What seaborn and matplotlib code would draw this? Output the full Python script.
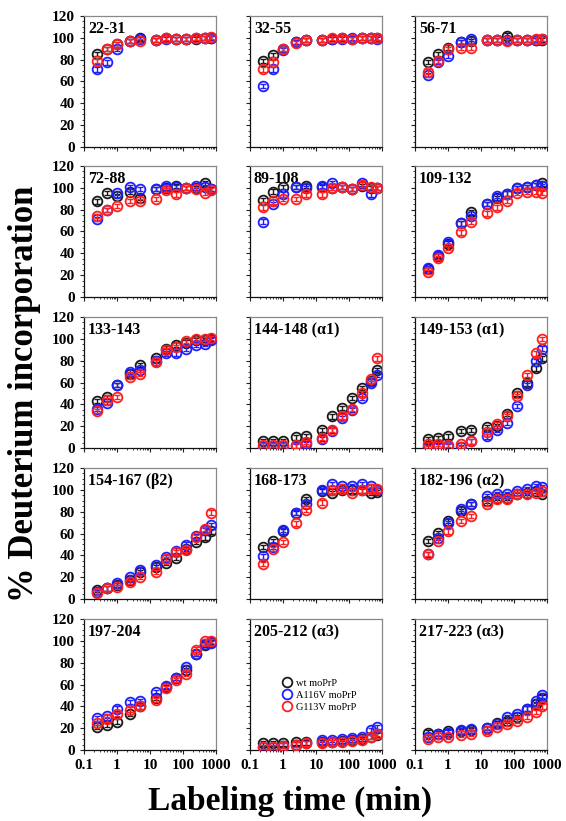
import numpy as np
import pandas as pd
import matplotlib
matplotlib.use("Agg")
import matplotlib.pyplot as plt
from matplotlib.lines import Line2D
from matplotlib.ticker import MultipleLocator, LogLocator, NullFormatter, FixedFormatter, FixedLocator
import seaborn as sns

sns.set_theme(style="ticks")
plt.rcParams["font.family"] = ["Liberation Serif", "DejaVu Serif"]
plt.rcParams["text.color"] = "black"
plt.rcParams["axes.labelcolor"] = "black"

# Labeling times (min)
times = [0.25, 0.5, 1, 2.5, 5, 15, 30, 60, 120, 240, 480, 720]

variants = ["wt moPrP", "A116V moPrP", "G113V moPrP"]
palette = {"wt moPrP": "#1a1a1a", "A116V moPrP": "#1f1fff", "G113V moPrP": "#ff1f1f"}

panels = ["22-31", "32-55", "56-71",
          "72-88", "89-108", "109-132",
          "133-143", "144-148 (\u03b11)", "149-153 (\u03b11)",
          "154-167 (\u03b22)", "168-173", "182-196 (\u03b12)",
          "197-204", "205-212 (\u03b13)", "217-223 (\u03b13)"]

# % deuterium incorporation per peptide: wt, A116V, G113V
p22_wt    = [85, 90, 94, 97, 100, 98, 99.5, 99, 99, 99, 100, 100]
p22_a116v = [71, 77.5, 90, 97, 99, 98, 99, 99, 99, 100, 100, 100]
p22_g113v = [79, 90, 94, 97, 97, 98, 100, 99, 99, 100, 100, 101]

p32_wt    = [79, 84.5, 90, 96, 98, 98, 99, 100, 99, 100, 100, 100]
p32_a116v = [56, 71, 89, 96, 98, 98, 99, 99, 100, 100, 100, 99]
p32_g113v = [71, 77.5, 90, 95, 98, 98, 100, 100, 99, 100, 100, 100]

p56_wt    = [78, 85, 91, 96, 97, 98, 98, 102, 98, 98, 98, 98]
p56_a116v = [66, 78, 83.5, 96, 99, 98, 98, 98, 98, 98, 98, 99]
p56_g113v = [69, 79, 90, 91, 91, 98, 98, 97, 98, 98, 99, 99]

p72_wt    = [87.5, 95, 92.7, 96.6, 91, 98.7, 100, 101.8, 99.6, 99.6, 104, 99]
p72_a116v = [71.4, 79.6, 95, 101, 98.7, 98.7, 101.8, 101, 99.6, 101.8, 101, 99]
p72_g113v = [74.4, 79.6, 83.5, 88, 88, 89.6, 97.8, 94, 100, 98.7, 95.7, 98]

p89_wt    = [88.7, 96.6, 101, 101, 101.8, 101, 100, 101, 98.7, 101.5, 100, 100]
p89_a116v = [69, 85, 94, 101, 99.6, 101.8, 104, 101, 98.7, 104, 94, 100]
p89_g113v = [82, 87.5, 89.6, 89.6, 94, 94, 99.6, 101, 98.7, 103, 101, 100]

p109_wt    = [25.8, 38, 49, 67.4, 77.5, 85, 90.5, 94.8, 100, 101, 102.7, 104]
p109_a116v = [26.4, 38.9, 50, 67.4, 74.4, 85, 92.7, 94.8, 99.6, 101, 102.7, 101.8]
p109_g113v = [22.8, 35.8, 44.7, 59.2, 69, 76.5, 82, 88, 95.7, 96.6, 96.6, 95.7]

p133_wt    = [43, 47, 57.7, 68, 76, 82.6, 91, 94.8, 96.6, 98.7, 98.7, 99.6]
p133_a116v = [35.8, 41, 57.7, 70, 71.4, 79.6, 86.6, 86.6, 91, 94.8, 95.7, 98.7]
p133_g113v = [34, 44, 47, 65, 68, 78.4, 89.6, 92.7, 97.8, 100, 100, 101]

p144_wt    = [6.5, 6.7, 6.7, 9.7, 11.2, 16.7, 28.9, 36.5, 46, 55, 61, 71.4]
p144_a116v = [1, 1, 1, 1.5, 3.6, 8.5, 16, 27.3, 35, 45.6, 59.2, 66.8]
p144_g113v = [2.5, 3, 2.5, 2.4, 5.5, 9, 16.7, 28.9, 35.8, 50, 63, 82]

p149_wt    = [8.5, 9, 10.6, 15.8, 16.7, 18.8, 19.7, 31, 50, 59.2, 72.9, 82]
p149_a116v = [0.6, 1.5, 1.5, 0.6, 6, 10.6, 16.7, 22.8, 38.6, 57.7, 79.6, 91]
p149_g113v = [3.6, 3.6, 3, 3.6, 6, 15, 21.9, 28.9, 47.7, 66.8, 86.6, 99.6]

p154_wt    = [8.2, 9.7, 12.7, 17.2, 24.8, 29.3, 33, 37.8, 46, 52, 56.5, 62]
p154_a116v = [6.6, 9.7, 14.8, 20.3, 27, 30.8, 38.4, 44.4, 49.9, 58, 63, 68]
p154_g113v = [5.7, 9.7, 11.2, 15.7, 20.3, 24.8, 36.9, 42.9, 45, 57, 64, 79.2]

p168_wt    = [47.5, 52.9, 62, 79, 91.3, 98.8, 97.3, 99.4, 99.4, 99.4, 97.3, 98.2]
p168_a116v = [39, 47.5, 63.2, 79.2, 87.4, 99.4, 105.5, 103.4, 103.4, 104.9, 103.4, 99.4]
p168_g113v = [32.3, 46, 52, 69.2, 81.3, 88.3, 99.4, 100.4, 97.3, 99.4, 100.4, 100.4]

p182_wt    = [52.9, 60.2, 71.6, 80.7, 86.8, 89.8, 92.8, 92.8, 96, 97.3, 98.8, 96.4]
p182_a116v = [40.8, 56, 69.2, 82.2, 86.8, 94.3, 96.4, 96.4, 98.8, 100.4, 103.4, 102.4]
p182_g113v = [41.4, 52.9, 62, 71.6, 76.2, 87.4, 91.3, 91.3, 96.4, 95.8, 97.3, 98.8]

p197_wt    = [21, 23, 26, 33, 40, 48, 58, 66, 73, 88, 96, 99]
p197_a116v = [29, 31, 38, 44, 45, 53, 59, 66, 76, 88, 97, 98]
p197_g113v = [25, 28, 33, 37, 40, 46, 57, 64, 70, 92, 100, 100]

p205_wt    = [6, 6, 6, 7, 7, 7, 7, 8, 9, 10, 12, 14]
p205_a116v = [3, 3, 4, 5, 6, 9, 9, 10, 11, 12, 18, 21]
p205_g113v = [3, 3, 4, 5, 6, 6, 7, 7, 8, 9, 12, 15]

p217_wt    = [16, 15, 17, 17, 18, 20, 25, 27, 30, 38, 42, 48]
p217_a116v = [12, 15, 16, 18, 19, 20, 24, 30, 33, 38, 45, 50]
p217_g113v = [10, 12, 12, 14, 15, 17, 21, 24, 27, 30, 35, 40]

series = [
    (p22_wt, p22_a116v, p22_g113v), (p32_wt, p32_a116v, p32_g113v), (p56_wt, p56_a116v, p56_g113v),
    (p72_wt, p72_a116v, p72_g113v), (p89_wt, p89_a116v, p89_g113v), (p109_wt, p109_a116v, p109_g113v),
    (p133_wt, p133_a116v, p133_g113v), (p144_wt, p144_a116v, p144_g113v), (p149_wt, p149_a116v, p149_g113v),
    (p154_wt, p154_a116v, p154_g113v), (p168_wt, p168_a116v, p168_g113v), (p182_wt, p182_a116v, p182_g113v),
    (p197_wt, p197_a116v, p197_g113v), (p205_wt, p205_a116v, p205_g113v), (p217_wt, p217_a116v, p217_g113v),
]

# standard deviation shown on every point
point_sd = 2.0

rows = []
for name, vals in zip(panels, series):
    for variant, v in zip(variants, vals):
        for t, y in zip(times, v):
            rows.append({"panel": name, "variant": variant, "time": t, "deut": y})
df = pd.DataFrame(rows)

x_ticks = [0.1, 1, 10, 100, 1000]
x_ticklabels = ["0.1", "1", "10", "100", "1000"]
y_ticks = [0, 20, 40, 60, 80, 100, 120]

fig = plt.figure(figsize=(5.66, 8.21), dpi=100)
W, H = 566, 821
col_left = [84, 250, 415]
row_bottom = [147, 297, 448, 599, 750]
aw, ah = 132, 131

MS = 7.0
MEW = 1.3

for i, name in enumerate(panels):
    r, c = divmod(i, 3)
    ax = fig.add_axes([col_left[c] / W, 1 - row_bottom[r] / H, aw / W, ah / H])
    sub = df[df["panel"] == name]
    for k, variant in enumerate(variants):
        s = sub[sub["variant"] == variant]
        col = palette[variant]
        ax.errorbar(s["time"], s["deut"], yerr=point_sd, fmt="none",
                    ecolor=col, elinewidth=1.0, capsize=2.2, capthick=1.0, zorder=2 + k)
        sns.lineplot(data=s, x="time", y="deut", color=col, marker="o",
                     markersize=MS, markerfacecolor="none", markeredgecolor=col,
                     markeredgewidth=MEW, linestyle="", errorbar=None,
                     legend=False, ax=ax, zorder=2.5 + k)
    ax.set_xscale("log")
    ax.set_xlim(0.1, 1000)
    ax.set_ylim(0, 120)
    ax.xaxis.set_major_locator(FixedLocator(x_ticks))
    ax.xaxis.set_minor_locator(LogLocator(base=10, subs=np.arange(2, 10)))
    ax.xaxis.set_minor_formatter(NullFormatter())
    ax.yaxis.set_major_locator(FixedLocator(y_ticks))
    ax.yaxis.set_minor_locator(MultipleLocator(5))
    ax.set_xlabel("")
    ax.set_ylabel("")
    ax.tick_params(which="major", direction="out", length=3, width=0.8,
                   color="#222222", labelcolor="black")
    ax.tick_params(which="minor", direction="out", length=1.6, width=0.6, color="#222222")
    if c == 0:
        ax.set_yticklabels([str(v) for v in y_ticks], fontsize=11, fontweight="bold")
    else:
        ax.set_yticklabels([])
    if r == 4:
        ax.xaxis.set_major_formatter(FixedFormatter(x_ticklabels))
        for lab in ax.get_xticklabels():
            lab.set_fontsize(11)
            lab.set_fontweight("bold")
    else:
        ax.set_xticklabels([])
    for side in ["left", "bottom"]:
        ax.spines[side].set_color("#111111")
        ax.spines[side].set_linewidth(0.9)
    for side in ["top", "right"]:
        ax.spines[side].set_color("#888888")
        ax.spines[side].set_linewidth(0.9)
    ax.text(0.03, 0.96, name, transform=ax.transAxes, ha="left", va="top",
            fontsize=11.5, fontweight="bold", color="black")
    if name.startswith("205-212"):
        handles = [Line2D([], [], linestyle="", marker="o", markersize=MS,
                          markerfacecolor="none", markeredgewidth=MEW,
                          markeredgecolor=palette[v]) for v in variants]
        ax.legend(handles, variants, loc="center left", bbox_to_anchor=(0.2, 0.42),
                  frameon=False, fontsize=7.5, handletextpad=0.3, labelspacing=0.25,
                  borderaxespad=0, handlelength=1.2, labelcolor="black")

fig.text(25 / W, 1 - 394 / H, "% Deuterium incorporation", rotation=90,
         ha="center", va="center", fontsize=25, fontweight="bold", color="black")
fig.text(290 / W, 1 - 801 / H, "Labeling time (min)", ha="center", va="center",
         fontsize=24, fontweight="bold", color="black")

fig.savefig("out.png", dpi=100, facecolor="white")
